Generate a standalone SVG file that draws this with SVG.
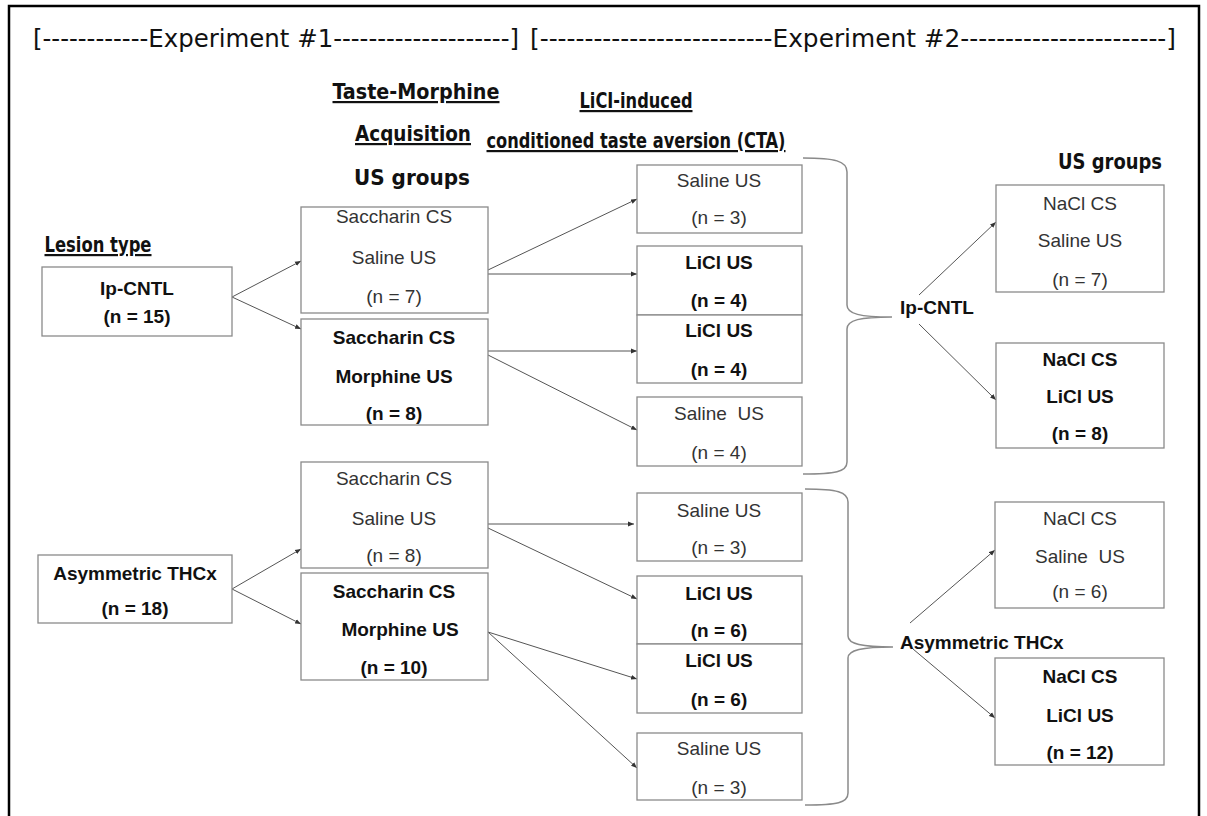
<svg xmlns="http://www.w3.org/2000/svg" width="1207" height="816" viewBox="0 0 1207 816">
<defs>
<marker id="ah" viewBox="0 0 10 10" refX="10" refY="5" markerWidth="6" markerHeight="6" markerUnits="userSpaceOnUse" orient="auto">
<path d="M0,1 L10,5 L0,9 z" fill="#333"/>
</marker>
<style>
.box{fill:#fff;stroke:#8a8a8a;stroke-width:1.3}
.t{font-family:"Liberation Sans",Arial,sans-serif;font-size:19px;fill:#333;text-anchor:middle}
.b{font-family:"Liberation Sans",Arial,sans-serif;font-size:19px;font-weight:bold;fill:#111;text-anchor:middle}
.s{text-anchor:start}
.hd{font-family:"DejaVu Sans Condensed","DejaVu Sans",sans-serif;font-size:25px;fill:#111}
.ti{font-family:"DejaVu Sans Condensed","DejaVu Sans",sans-serif;font-size:22px;font-weight:bold;fill:#111;text-anchor:middle}
.ul{text-decoration:underline}
.c{stroke:#555;stroke-width:1;fill:none;marker-end:url(#ah)}
.br{stroke:#8a8a8a;stroke-width:1.5;fill:none}
</style>
</defs>
<rect x="0" y="0" width="1207" height="816" fill="#fff"/>
<path d="M9,830 V6 H1199 V830" fill="none" stroke="#000" stroke-width="2.5"/>

<g id="header">
<text class="hd" x="33" y="47" textLength="486" lengthAdjust="spacingAndGlyphs">[------------Experiment #1--------------------]</text>
<text class="hd" x="530" y="47" textLength="646" lengthAdjust="spacingAndGlyphs">[--------------------------Experiment #2-----------------------]</text>
</g>
<g id="titles">
<text class="ti ul" x="416" y="99" textLength="167" lengthAdjust="spacingAndGlyphs">Taste-Morphine</text>
<text class="ti ul" x="413" y="141" textLength="116" lengthAdjust="spacingAndGlyphs">Acquisition</text>
<text class="ti" x="412" y="185" textLength="116" lengthAdjust="spacingAndGlyphs">US groups</text>
<text class="ti ul" x="636" y="108" textLength="113" lengthAdjust="spacingAndGlyphs">LiCI-induced</text>
<text class="ti ul" x="636" y="148" textLength="299" lengthAdjust="spacingAndGlyphs">conditioned taste aversion (CTA)</text>
<text class="ti" x="1110" y="169" textLength="104" lengthAdjust="spacingAndGlyphs">US groups</text>
<text class="ti ul" x="98" y="252" textLength="107" lengthAdjust="spacingAndGlyphs">Lesion type</text>
</g>

<g id="connectors">
<line class="c" x1="232" y1="297" x2="301" y2="261"/>
<line class="c" x1="232" y1="297" x2="301" y2="329"/>
<line class="c" x1="232" y1="589" x2="301" y2="549"/>
<line class="c" x1="232" y1="589" x2="301" y2="624"/>
<line class="c" x1="488" y1="270" x2="637" y2="199"/>
<line class="c" x1="483" y1="274" x2="637" y2="274"/>
<line class="c" x1="488" y1="351" x2="637" y2="351"/>
<line class="c" x1="488" y1="355" x2="637" y2="430"/>
<line class="c" x1="488" y1="524" x2="634" y2="524"/>
<line class="c" x1="488" y1="528" x2="637" y2="599"/>
<line class="c" x1="488" y1="632" x2="637" y2="679"/>
<line class="c" x1="488" y1="632" x2="637" y2="768"/>
<line class="c" x1="919" y1="295" x2="996" y2="222"/>
<line class="c" x1="919" y1="324" x2="996" y2="400"/>
<line class="c" x1="910" y1="623" x2="995" y2="550"/>
<line class="c" x1="913" y1="649" x2="995" y2="718"/>
<path class="br" d="M803,158 C835,158 847,161 847,172 V305 C847,314 860,317 892,317 C860,317 847,320 847,329 V462 C847,472 835,474 803,474"/>
<path class="br" d="M805,489 C837,489 848,492 848,502 V636 C848,644 862,647 893,647 C862,647 848,650 848,658 V793 C848,803 837,805 805,805"/>
</g>

<g id="n-ipcntl"><rect class="box" x="42" y="267" width="190" height="69"/><text class="b" x="137" y="295">Ip-CNTL</text><text class="b" x="137" y="323">(n = 15)</text></g>
<g id="n-asym"><rect class="box" x="38" y="555" width="194" height="68"/><text class="b" x="135" y="580">Asymmetric THCx</text><text class="b" x="135" y="615">(n = 18)</text></g>

<g id="n-e1a"><rect class="box" x="301" y="207" width="187" height="106"/><text class="t" x="394" y="223">Saccharin CS</text><text class="t" x="394" y="264">Saline US</text><text class="t" x="394" y="303">(n = 7)</text></g>
<g id="n-e1b"><rect class="box" x="301" y="319" width="187" height="106"/><text class="b" x="394" y="344">Saccharin CS</text><text class="b" x="394" y="383">Morphine US</text><text class="b" x="394" y="420">(n = 8)</text></g>
<g id="n-e1c"><rect class="box" x="301" y="462" width="187" height="106"/><text class="t" x="394" y="485">Saccharin CS</text><text class="t" x="394" y="525">Saline US</text><text class="t" x="394" y="562">(n = 8)</text></g>
<g id="n-e1d"><rect class="box" x="301" y="573" width="187" height="107"/><text class="b" x="394" y="598">Saccharin CS</text><text class="b" x="400" y="636">Morphine US</text><text class="b" x="394" y="674">(n = 10)</text></g>

<g id="n-m1"><rect class="box" x="637" y="165" width="165" height="68"/><text class="t" x="719" y="187">Saline US</text><text class="t" x="719" y="224">(n = 3)</text></g>
<g id="n-m2"><rect class="box" x="637" y="246" width="165" height="69"/><text class="b" x="719" y="269">LiCl US</text><text class="b" x="719" y="307">(n = 4)</text></g>
<g id="n-m3"><rect class="box" x="637" y="315" width="165" height="68"/><text class="b" x="719" y="337">LiCl US</text><text class="b" x="719" y="376">(n = 4)</text></g>
<g id="n-m4"><rect class="box" x="637" y="397" width="165" height="69"/><text class="t" x="719" y="420" xml:space="preserve">Saline  US</text><text class="t" x="719" y="459">(n = 4)</text></g>
<g id="n-m5"><rect class="box" x="637" y="493" width="165" height="68"/><text class="t" x="719" y="517">Saline US</text><text class="t" x="719" y="554">(n = 3)</text></g>
<g id="n-m6"><rect class="box" x="637" y="576" width="165" height="68"/><text class="b" x="719" y="600">LiCl US</text><text class="b" x="719" y="637">(n = 6)</text></g>
<g id="n-m7"><rect class="box" x="637" y="644" width="165" height="69"/><text class="b" x="719" y="667">LiCl US</text><text class="b" x="719" y="706">(n = 6)</text></g>
<g id="n-m8"><rect class="box" x="637" y="733" width="165" height="67"/><text class="t" x="719" y="755">Saline US</text><text class="t" x="719" y="794">(n = 3)</text></g>

<g id="n-lab1"><text class="b s" x="900" y="314">Ip-CNTL</text></g>
<g id="n-lab2"><text class="b s" x="900" y="649">Asymmetric THCx</text></g>

<g id="n-r1"><rect class="box" x="996" y="185" width="168" height="107"/><text class="t" x="1080" y="210">NaCl CS</text><text class="t" x="1080" y="247">Saline US</text><text class="t" x="1080" y="286">(n = 7)</text></g>
<g id="n-r2"><rect class="box" x="996" y="343" width="168" height="105"/><text class="b" x="1080" y="366">NaCl CS</text><text class="b" x="1080" y="403">LiCl US</text><text class="b" x="1080" y="440">(n = 8)</text></g>
<g id="n-r3"><rect class="box" x="995" y="502" width="169" height="106"/><text class="t" x="1080" y="525">NaCl CS</text><text class="t" x="1080" y="563" xml:space="preserve">Saline  US</text><text class="t" x="1080" y="598">(n = 6)</text></g>
<g id="n-r4"><rect class="box" x="995" y="658" width="169" height="107"/><text class="b" x="1080" y="683">NaCl CS</text><text class="b" x="1080" y="722">LiCl US</text><text class="b" x="1080" y="759">(n = 12)</text></g>
</svg>
